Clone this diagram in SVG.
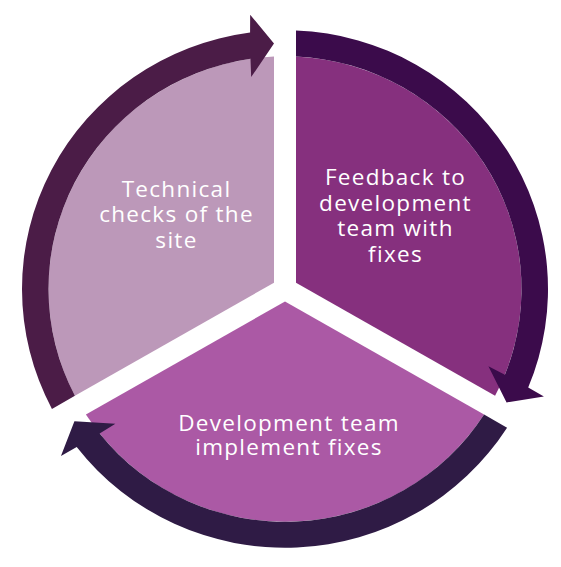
<svg xmlns="http://www.w3.org/2000/svg" xmlns:xlink="http://www.w3.org/1999/xlink" width="561" height="567" viewBox="0 0 561 567">
  <style>
    .lbl { font-family: "Open Sans", "DejaVu Sans", sans-serif; font-size: 22.5px; font-weight: 500; fill: #ffffff; text-anchor: middle; letter-spacing: 1.3px; }
  </style>
  <defs>
    <path id="sector" d="M 11,-6.35 L 11,-236.24 A 236.5 236.5 0 0 1 210.09,108.60 Z"/>
    <path id="arrow" d="M 11,-262.77 A 263 263 0 0 1 243.21,100.09 L 258.90,109.24 L 221.58,115.22 L 203.42,78.39 L 219.89,87.09 A 236.5 236.5 0 0 0 11,-236.24 Z"/>
  </defs>
  <rect width="561" height="567" fill="#ffffff"/>
  <g transform="translate(285,289) scale(1,0.984)">
    <g id="node-technical">
      <use xlink:href="#sector" href="#sector" transform="rotate(-120)" fill="#bc98b9"/>
    </g>
    <g id="node-feedback">
      <use xlink:href="#sector" href="#sector" fill="#86307e"/>
    </g>
    <g id="node-implement">
      <use xlink:href="#sector" href="#sector" transform="rotate(120)" fill="#ab59a5"/>
    </g>
    <g id="connectors">
      <use xlink:href="#arrow" href="#arrow" transform="rotate(-120)" fill="#4b1c47"/>
      <use xlink:href="#arrow" href="#arrow" fill="#3b0b4b"/>
      <use xlink:href="#arrow" href="#arrow" transform="rotate(120)" fill="#2f1b45"/>
    </g>
  </g>
  <g id="labels">
    <text class="lbl" x="176.5" y="197">Technical</text>
    <text class="lbl" x="176.5" y="222">checks of the</text>
    <text class="lbl" x="176.5" y="247.5">site</text>
    <text class="lbl" x="395.5" y="185">Feedback to</text>
    <text class="lbl" x="395.5" y="210.5">development</text>
    <text class="lbl" x="395.5" y="236">team with</text>
    <text class="lbl" x="395.5" y="261.5">fixes</text>
    <text class="lbl" x="289" y="430.5">Development team</text>
    <text class="lbl" x="289" y="455">implement fixes</text>
  </g>
</svg>
